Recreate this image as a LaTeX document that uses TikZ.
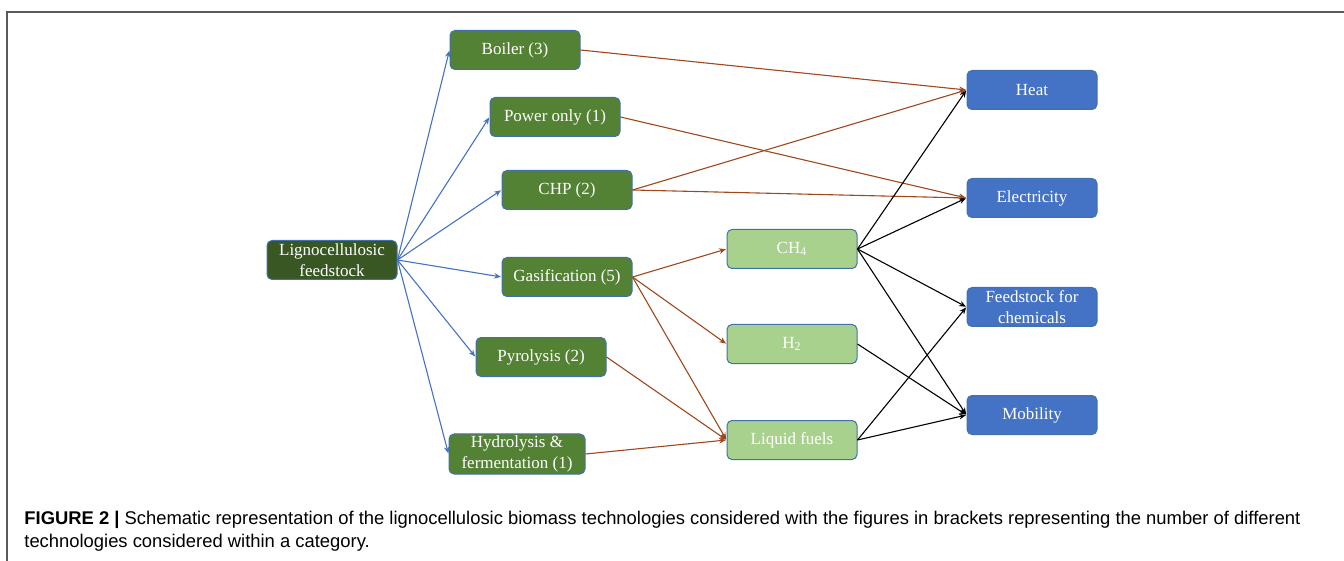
\documentclass[tikz,border=0pt]{standalone}
\usepackage{fontspec}
\setmainfont{Liberation Serif}
\newfontfamily\capfont{Liberation Sans}
\usetikzlibrary{arrows.meta}
\definecolor{feedgreen}{RGB}{56,87,35}
\definecolor{techgreen}{RGB}{84,130,53}
\definecolor{lightgreen}{RGB}{169,209,142}
\definecolor{endblue}{RGB}{68,114,196}
\definecolor{edgeblue}{RGB}{65,113,170}
\definecolor{brownarr}{RGB}{158,72,28}
\newcommand{\boxround}{2.5pt}

\begin{document}
\begin{tikzpicture}[x=0.5pt,y=-0.5pt,
    box/.style={draw=edgeblue, line width=.5pt, rounded corners=\boxround, text=white,
      minimum width=65pt, minimum height=19.5pt, inner sep=1pt, align=center,
      font=\fontsize{8.5}{10.3}\selectfont},
    arr/.style={-{Stealth[length=3.4pt,width=2.8pt]}, line width=.55pt, shorten >=.3pt}]
      \useasboundingbox (0,0) rectangle (1344,561);
      % frame of the figure
      \draw[line width=.6pt, black!65] (1344,12) -- (7,12) -- (7,561);

      % feedstock
        \node (feed) at (332,260) [box, fill=feedgreen] {Lignocellulosic\\feedstock};
      % technologies
        \node (boiler) at (515,50) [box, fill=techgreen] {Boiler (3)};
        \node (power) at (555,117) [box, fill=techgreen] {Power only (1)};
        \node (chp) at (567,190) [box, fill=techgreen] {CHP (2)};
        \node (gasif) at (567,277) [box, fill=techgreen] {Gasification (5)};
        \node (pyro) at (541,357) [box, fill=techgreen] {Pyrolysis (2)};
        \node (hydro) at (517,454) [box, fill=techgreen, minimum width=68pt] {Hydrolysis \&\\fermentation (1)};
      % intermediate products
        \node (ch4) at (792,249) [box, fill=lightgreen] {CH\textsubscript{4}};
        \node (htwo) at (792,344) [box, fill=lightgreen] {H\textsubscript{2}};
        \node (liquid) at (792,440) [box, fill=lightgreen] {Liquid fuels};
      % end uses
        \node (heat) at (1032,90) [box, fill=endblue] {Heat};
        \node (elec) at (1032,198) [box, fill=endblue] {Electricity};
        \node (chem) at (1032,307) [box, fill=endblue] {Feedstock for\\chemicals};
        \node (mobil) at (1032,415) [box, fill=endblue] {Mobility};

        \foreach \t in {boiler,power,chp,gasif,pyro,hydro}
          \draw[arr, endblue] (feed.east) -- (\t.west);

        \draw[arr, brownarr] (boiler.east) -- (heat.west);
        \draw[arr, brownarr] (power.east) -- (elec.west);
        \draw[arr, brownarr] (chp.east) -- (heat.west);
        \draw[arr, brownarr] (chp.east) -- (elec.west);
        \foreach \p in {ch4,htwo,liquid}
          \draw[arr, brownarr] (gasif.east) -- (\p.west);
        \draw[arr, brownarr] (pyro.east) -- (liquid.west);
        \draw[arr, brownarr] (hydro.east) -- (liquid.west);

        \foreach \u in {heat,elec,chem,mobil}
          \draw[arr] (ch4.east) -- (\u.west);
        \draw[arr] (htwo.east) -- (mobil.west);
        \draw[arr] (liquid.east) -- (chem.west);
        \draw[arr] (liquid.east) -- (mobil.west);

      % caption
      \node (caption) at (24,511) [anchor=north west, inner sep=0pt, align=left,
          font=\capfont\fontsize{9.2}{11.6}\selectfont]
        {\textbf{FIGURE 2 |} Schematic representation of the lignocellulosic biomass technologies considered with the figures in brackets representing the number of different\\
         technologies considered within a category.};
    \end{tikzpicture}
\end{document}
